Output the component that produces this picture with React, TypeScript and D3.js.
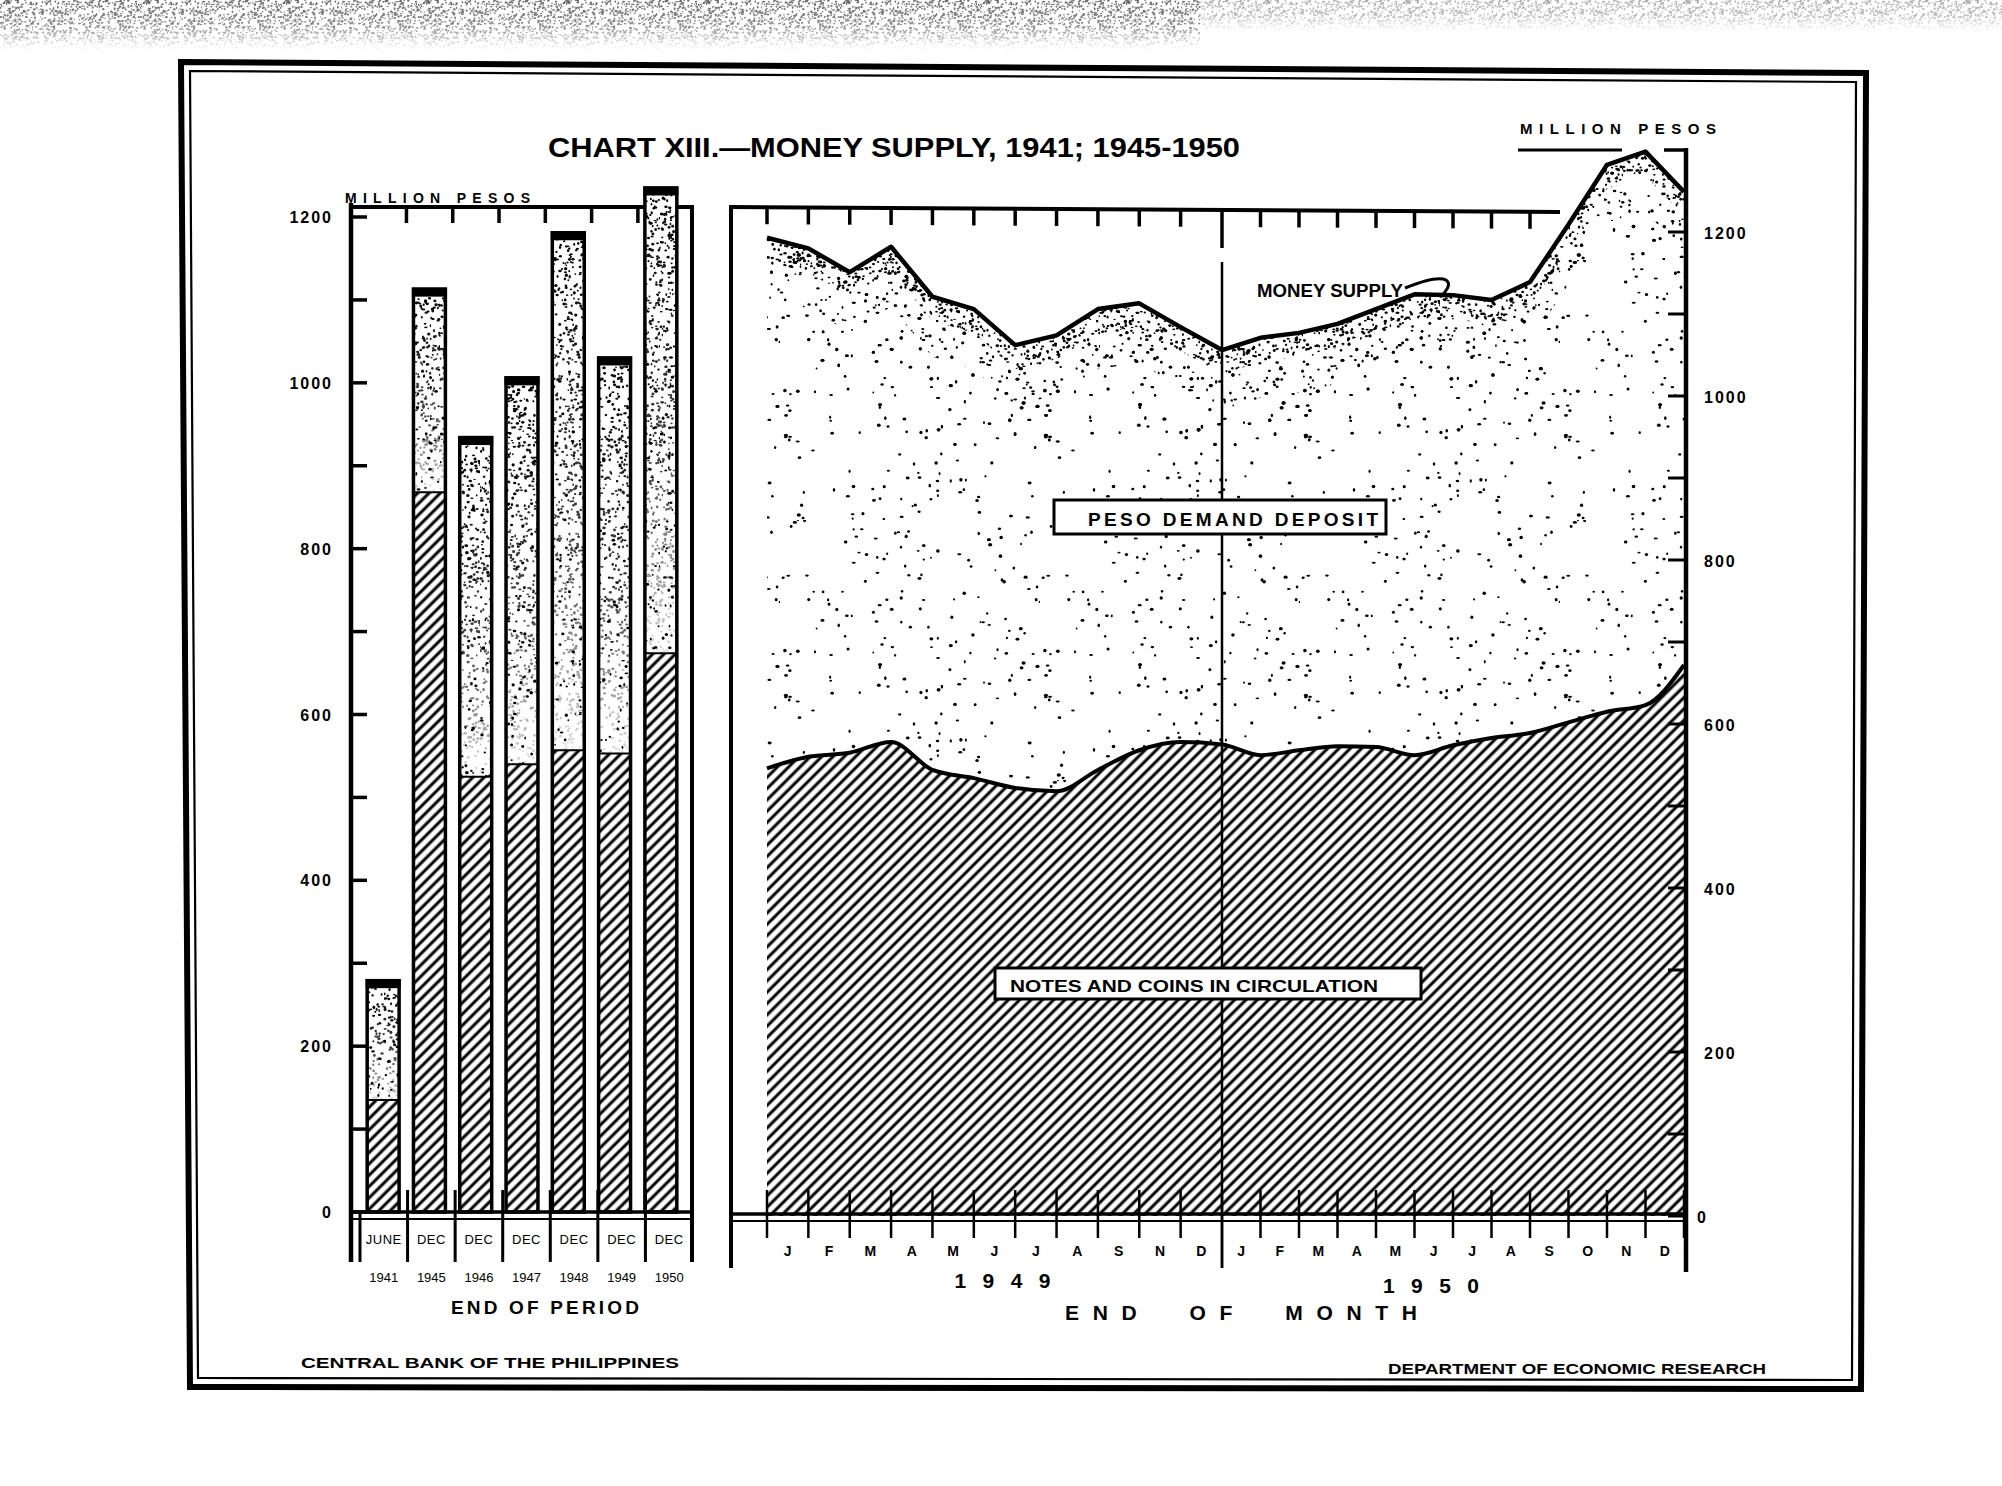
import { useEffect, useRef } from "react";
import * as d3 from "d3";

// left panel: end of period
const periodLabels = ["JUNE", "DEC", "DEC", "DEC", "DEC", "DEC", "DEC"];
const periodYears = ["1941", "1945", "1946", "1947", "1948", "1949", "1950"];
const periodNotes = [135, 868, 525, 540, 557, 553, 674];
const periodTotal = [279, 1113, 934, 1006, 1181, 1030, 1235];

// right panel: end of month, 1949 - 1950 (points sit on the month ticks)
const months1949 = ["J", "F", "M", "A", "M", "J", "J", "A", "S", "N", "D"];
const months1950 = ["J", "F", "M", "A", "M", "J", "J", "A", "S", "O", "N", "D"];
const moneySupply = [1193, 1180, 1151, 1182, 1121, 1106, 1062, 1074, 1106, 1113, 1084, 1056, 1071, 1077, 1088, 1106, 1124, 1123, 1117, 1139, 1209, 1282, 1298, 1249];
const notesCoins = [546, 560, 565, 578, 544, 534, 522, 518, 544, 568, 578, 575, 562, 568, 573, 572, 562, 574, 583, 589, 602, 615, 623, 672];

const minorTicks = [0, 100, 200, 300, 400, 500, 600, 700, 800, 900, 1000, 1100, 1200];
const tickLabels = [0, 200, 400, 600, 800, 1000, 1200];

function App() {
  const svgRef = useRef<SVGSVGElement>(null);

  useEffect(() => {
    if (!svgRef.current) return;

    const svg = d3.select(svgRef.current);
    svg.selectAll("*").remove();

    const width = 2002;
    const height = 1486;
    svg.attr("width", width).attr("height", height);

    const font = "'Liberation Sans', Arial, sans-serif";

    // deterministic speckle for the textures (not data)
    let seed = 11;
    const rnd = () => {
      seed = (seed * 1664525 + 1013904223) % 4294967296;
      return seed / 4294967296;
    };

    const defs = svg.append("defs");

    // diagonal hatch for notes and coins
    const hatch = defs
      .append("pattern")
      .attr("id", "hatch")
      .attr("patternUnits", "userSpaceOnUse")
      .attr("width", 8)
      .attr("height", 8)
      .attr("patternTransform", "rotate(45)");
    hatch.append("rect").attr("width", 8).attr("height", 8).attr("fill", "#fff");
    hatch
      .append("line")
      .attr("x1", 4)
      .attr("x2", 4)
      .attr("y1", -1)
      .attr("y2", 9)
      .attr("stroke", "#000")
      .attr("stroke-width", 3);

    const stipple = (id: string, size: number, count: number, r0: number, r1: number, color = "#000") => {
      const p = defs
        .append("pattern")
        .attr("id", id)
        .attr("patternUnits", "userSpaceOnUse")
        .attr("width", size)
        .attr("height", size);
      for (let i = 0; i < count; i++) {
        p.append("ellipse")
          .attr("cx", rnd() * size)
          .attr("cy", rnd() * size)
          .attr("rx", r0 + rnd() * (r1 - r0))
          .attr("ry", r0 + rnd() * (r1 - r0) * 0.8)
          .attr("fill", color);
      }
    };
    stipple("dotsSparse", 260, 210, 0.9, 2.1);
    stipple("dotsMid", 220, 420, 0.8, 1.9);
    stipple("dotsDense", 160, 900, 0.8, 1.8);
    stipple("noise", 140, 2600, 0.5, 1.4, "#6a6a6a");

    // fade mask for bar stipple (dark at top)
    const grad = defs.append("linearGradient").attr("id", "fade").attr("x1", 0).attr("y1", 0).attr("x2", 0).attr("y2", 1);
    grad.append("stop").attr("offset", 0).attr("stop-color", "#fff");
    grad.append("stop").attr("offset", 0.6).attr("stop-color", "#bbb");
    grad.append("stop").attr("offset", 1).attr("stop-color", "#222");
    defs
      .append("mask")
      .attr("id", "fadeMask")
      .attr("maskContentUnits", "objectBoundingBox")
      .append("rect")
      .attr("width", 1)
      .attr("height", 1)
      .attr("fill", "url(#fade)");

    const gradTop = defs.append("linearGradient").attr("id", "fadeTop").attr("x1", 0).attr("y1", 0).attr("x2", 0).attr("y2", 1);
    gradTop.append("stop").attr("offset", 0).attr("stop-color", "#fff");
    gradTop.append("stop").attr("offset", 0.5).attr("stop-color", "#ccc");
    gradTop.append("stop").attr("offset", 1).attr("stop-color", "#000");
    defs
      .append("mask")
      .attr("id", "noiseMask")
      .attr("maskContentUnits", "objectBoundingBox")
      .append("rect")
      .attr("width", 1)
      .attr("height", 1)
      .attr("fill", "url(#fadeTop)");

    svg.append("rect").attr("width", width).attr("height", height).attr("fill", "#fff");

    // scanned paper edge at the top
    svg.append("rect").attr("x", 0).attr("y", 0).attr("width", 1200).attr("height", 50).attr("fill", "url(#noise)").attr("mask", "url(#noiseMask)");
    svg.append("rect").attr("x", 1200).attr("y", 0).attr("width", 802).attr("height", 32).attr("fill", "url(#noise)").attr("opacity", 0.55).attr("mask", "url(#noiseMask)");

    // double frame
    const outer: [number, number][] = [[181, 62], [1866, 73], [1861, 1389], [190, 1387]];
    const inner: [number, number][] = [[190, 71], [1856, 82], [1852, 1380], [198, 1378]];
    svg.append("polygon").attr("points", outer.map((p) => p.join(",")).join(" ")).attr("fill", "none").attr("stroke", "#000").attr("stroke-width", 6);
    svg.append("polygon").attr("points", inner.map((p) => p.join(",")).join(" ")).attr("fill", "none").attr("stroke", "#000").attr("stroke-width", 2.2);

    const text = (x: number, y: number, s: string, size: number, anchor = "start", len?: number, adjust = "spacingAndGlyphs") => {
      const t = svg
        .append("text")
        .attr("x", x)
        .attr("y", y)
        .attr("font-family", font)
        .attr("font-weight", 700)
        .attr("font-size", size)
        .attr("text-anchor", anchor)
        .attr("fill", "#000")
        .style("white-space", "pre")
        .text(s);
      if (len) t.attr("textLength", len).attr("lengthAdjust", adjust);
      return t;
    };

    // title
    text(548, 157, "CHART XIII.\u2014MONEY SUPPLY, 1941; 1945-1950", 27, "start", 692);

    // ---------------- left panel ----------------
    const yL = d3.scaleLinear().domain([0, 1200]).range([1212, 217]);
    const xBar = d3.scaleBand<string>().domain(periodYears).range([360, 684]).paddingInner(0.31).paddingOuter(0.155);
    const xCell = d3.scaleBand<string>().domain(periodYears).range([360, 693]);
    const left = svg.append("g");

    // frame
    left.append("line").attr("x1", 350).attr("x2", 693).attr("y1", 207).attr("y2", 207).attr("stroke", "#000").attr("stroke-width", 4);
    left.append("line").attr("x1", 692).attr("x2", 692).attr("y1", 205).attr("y2", 1262).attr("stroke", "#000").attr("stroke-width", 4);
    left.append("line").attr("x1", 351).attr("x2", 351).attr("y1", 203).attr("y2", 1262).attr("stroke", "#000").attr("stroke-width", 4.5);

    // top ticks between bars
    periodYears.slice(1).forEach((yr) => {
      const x = xBar(yr)! - 7;
      left.append("line").attr("x1", x).attr("x2", x).attr("y1", 207).attr("y2", 223).attr("stroke", "#000").attr("stroke-width", 3.5);
    });

    // y ticks
    minorTicks.forEach((v) => {
      left.append("line").attr("x1", 351).attr("x2", 367).attr("y1", yL(v)).attr("y2", yL(v)).attr("stroke", "#000").attr("stroke-width", 3.5);
    });
    tickLabels.forEach((v) => {
      text(333, yL(v) + 6, String(v), 16, "end").attr("letter-spacing", 2);
    });
    text(345, 203, "MILLION PESOS", 14, "start", 185, "spacing");

    // bars
    const bw = xBar.bandwidth();
    periodYears.forEach((yr, i) => {
      const x = xBar(yr)!;
      const yTop = yL(periodTotal[i]);
      const yMid = yL(periodNotes[i]);
      const y0 = yL(0);
      left.append("rect").attr("x", x).attr("y", yMid).attr("width", bw).attr("height", y0 - yMid).attr("fill", "url(#hatch)");
      left.append("rect").attr("x", x).attr("y", yTop).attr("width", bw).attr("height", yMid - yTop).attr("fill", "#fff");
      left.append("rect").attr("x", x).attr("y", yTop).attr("width", bw).attr("height", yMid - yTop).attr("fill", "url(#dotsMid)");
      left
        .append("rect")
        .attr("x", x)
        .attr("y", yTop)
        .attr("width", bw)
        .attr("height", yMid - yTop)
        .attr("fill", "url(#dotsDense)")
        .attr("mask", "url(#fadeMask)");
      left.append("line").attr("x1", x).attr("x2", x + bw).attr("y1", yMid).attr("y2", yMid).attr("stroke", "#000").attr("stroke-width", 2);
      left.append("rect").attr("x", x).attr("y", yTop).attr("width", bw).attr("height", y0 - yTop).attr("fill", "none").attr("stroke", "#000").attr("stroke-width", 3.5);
      left.append("rect").attr("x", x - 1.5).attr("y", yTop - 1.5).attr("width", bw + 3).attr("height", 9).attr("fill", "#000");
    });

    // baseline and category cells
    left.append("line").attr("x1", 351).attr("x2", 693).attr("y1", 1212).attr("y2", 1212).attr("stroke", "#000").attr("stroke-width", 3.5);
    left.append("line").attr("x1", 351).attr("x2", 693).attr("y1", 1219).attr("y2", 1219).attr("stroke", "#000").attr("stroke-width", 2);
    left.append("line").attr("x1", 360).attr("x2", 360).attr("y1", 1212).attr("y2", 1262).attr("stroke", "#000").attr("stroke-width", 3);
    periodYears.slice(1).forEach((yr) => {
      const x = xCell(yr)!;
      left.append("line").attr("x1", x).attr("x2", x).attr("y1", 1190).attr("y2", 1262).attr("stroke", "#000").attr("stroke-width", 3);
    });
    periodYears.forEach((yr, i) => {
      const cx = xCell(yr)! + xCell.bandwidth() / 2;
      text(cx, 1244, periodLabels[i], 13, "middle").attr("font-weight", 400).attr("letter-spacing", 0.5);
      text(cx, 1282, yr, 13, "middle").attr("font-weight", 400);
    });
    text(545, 1314, "END OF PERIOD", 19, "middle", 188, "spacing");

    // ---------------- right panel ----------------
    const yR = d3.scaleLinear().domain([0, 1200]).range([1216, 232]);
    const xR = d3
      .scaleLinear()
      .domain([0, months1949.length, moneySupply.length - 1])
      .range([767, 1222, 1684]);
    const idx = moneySupply.map((_, i) => i);
    const right = svg.append("g");

    // frame (top with month ticks)
    right.append("line").attr("x1", 731).attr("x2", 731).attr("y1", 205).attr("y2", 1268).attr("stroke", "#000").attr("stroke-width", 4);
    right.append("line").attr("x1", 729).attr("x2", 1560).attr("y1", 207).attr("y2", 212).attr("stroke", "#000").attr("stroke-width", 4);
    idx.forEach((i) => {
      const x = xR(i);
      if (x > 1560) return;
      const yt = 207 + ((x - 729) / (1560 - 729)) * 5;
      right
        .append("line")
        .attr("x1", x)
        .attr("x2", x)
        .attr("y1", yt)
        .attr("y2", i === months1949.length ? 248 : yt + 17)
        .attr("stroke", "#000")
        .attr("stroke-width", 3.5);
    });

    // areas
    const depositArea = d3
      .area<number>()
      .x((i) => xR(i))
      .y0((i) => yR(notesCoins[i]))
      .y1((i) => yR(moneySupply[i]));
    const bandArea = (depth: number) =>
      d3
        .area<number>()
        .x((i) => xR(i))
        .y0((i) => Math.min(yR(moneySupply[i]) + depth, yR(notesCoins[i])))
        .y1((i) => yR(moneySupply[i]));
    const notesArea = d3
      .area<number>()
      .x((i) => xR(i))
      .y0(yR(0))
      .y1((i) => yR(notesCoins[i]))
      .curve(d3.curveMonotoneX);

    right.append("path").attr("d", depositArea(idx)!).attr("fill", "#fff");
    right.append("path").attr("d", depositArea(idx)!).attr("fill", "url(#dotsSparse)");
    right.append("path").attr("d", bandArea(110)(idx)!).attr("fill", "url(#dotsSparse)");
    right.append("path").attr("d", bandArea(60)(idx)!).attr("fill", "url(#dotsMid)");
    right.append("path").attr("d", bandArea(24)(idx)!).attr("fill", "url(#dotsDense)");
    right.append("path").attr("d", notesArea(idx)!).attr("fill", "url(#hatch)");

    right
      .append("path")
      .attr("d", d3.line<number>().x((i) => xR(i)).y((i) => yR(notesCoins[i])).curve(d3.curveMonotoneX)(idx)!)
      .attr("fill", "none")
      .attr("stroke", "#000")
      .attr("stroke-width", 4)
      .attr("stroke-linejoin", "round");
    right
      .append("path")
      .attr("d", d3.line<number>().x((i) => xR(i)).y((i) => yR(moneySupply[i]))(idx)!)
      .attr("fill", "none")
      .attr("stroke", "#000")
      .attr("stroke-width", 4.5)
      .attr("stroke-linejoin", "round");

    // year divider
    const xDiv = xR(months1949.length);
    right.append("line").attr("x1", xDiv).attr("x2", xDiv).attr("y1", 262).attr("y2", 1268).attr("stroke", "#000").attr("stroke-width", 2.5);

    // baseline with month ticks
    right.append("line").attr("x1", 731).attr("x2", 1686).attr("y1", 1214).attr("y2", 1214).attr("stroke", "#000").attr("stroke-width", 3.5);
    right.append("line").attr("x1", 731).attr("x2", 1686).attr("y1", 1221).attr("y2", 1221).attr("stroke", "#000").attr("stroke-width", 2);
    idx.forEach((i) => {
      const x = xR(i);
      right
        .append("line")
        .attr("x1", x)
        .attr("x2", x)
        .attr("y1", 1190)
        .attr("y2", i === months1949.length ? 1268 : 1238)
        .attr("stroke", "#000")
        .attr("stroke-width", 2.5);
    });
    const monthLabels = months1949.concat(months1950);
    monthLabels.forEach((m, i) => {
      const cx = (xR(i) + xR(i + 1)) / 2;
      text(cx, 1256, m, 14, "middle");
    });
    const mid49 = (xR(0) + xR(months1949.length)) / 2;
    const mid50 = (xR(months1949.length) + xR(moneySupply.length - 1)) / 2;
    text(mid49 + 8, 1288, "1 9 4 9", 21, "middle", 96, "spacing");
    text(mid50 - 22, 1293, "1 9 5 0", 21, "middle", 96, "spacing");
    text(1241, 1320, "E N D     O F     M O N T H", 21, "middle", 352, "spacing");

    // right axis
    right.append("line").attr("x1", 1686).attr("x2", 1686).attr("y1", 148).attr("y2", 1272).attr("stroke", "#000").attr("stroke-width", 4.5);
    right.append("line").attr("x1", 1664).attr("x2", 1688).attr("y1", 150).attr("y2", 150).attr("stroke", "#000").attr("stroke-width", 3.5);
    minorTicks.forEach((v) => {
      right.append("line").attr("x1", 1668).attr("x2", 1686).attr("y1", yR(v)).attr("y2", yR(v)).attr("stroke", "#000").attr("stroke-width", 3);
    });
    tickLabels.forEach((v) => {
      text(v === 0 ? 1697 : 1704, yR(v) + 7, String(v), 16, "start").attr("letter-spacing", 2);
    });
    text(1520, 134, "MILLION PESOS", 15, "start", 196, "spacing");
    right.append("line").attr("x1", 1518).attr("x2", 1622).attr("y1", 150).attr("y2", 150).attr("stroke", "#000").attr("stroke-width", 3);

    // series labels
    right.append("rect").attr("x", 1054).attr("y", 500).attr("width", 332).attr("height", 34).attr("fill", "#fff").attr("stroke", "#000").attr("stroke-width", 3);
    text(1088, 526, "PESO DEMAND DEPOSIT", 19, "start", 290, "spacing");
    right.append("rect").attr("x", 995).attr("y", 968).attr("width", 426).attr("height", 31).attr("fill", "#fff").attr("stroke", "#000").attr("stroke-width", 3);
    text(1010, 992, "NOTES AND COINS IN CIRCULATION", 17, "start", 368);
    text(1257, 297, "MONEY SUPPLY", 18, "start", 146);
    right
      .append("path")
      .attr("d", "M1405,288 C1420,282 1438,276 1446,280 C1452,284 1446,292 1440,297")
      .attr("fill", "none")
      .attr("stroke", "#000")
      .attr("stroke-width", 3);

    // footer
    text(301, 1368, "CENTRAL BANK OF THE PHILIPPINES", 15, "start", 378);
    text(1388, 1374, "DEPARTMENT OF ECONOMIC RESEARCH", 15, "start", 378);
  }, []);

  return <svg ref={svgRef} style={{ position: "absolute", left: 0, top: 0 }}></svg>;
}

export default App;
